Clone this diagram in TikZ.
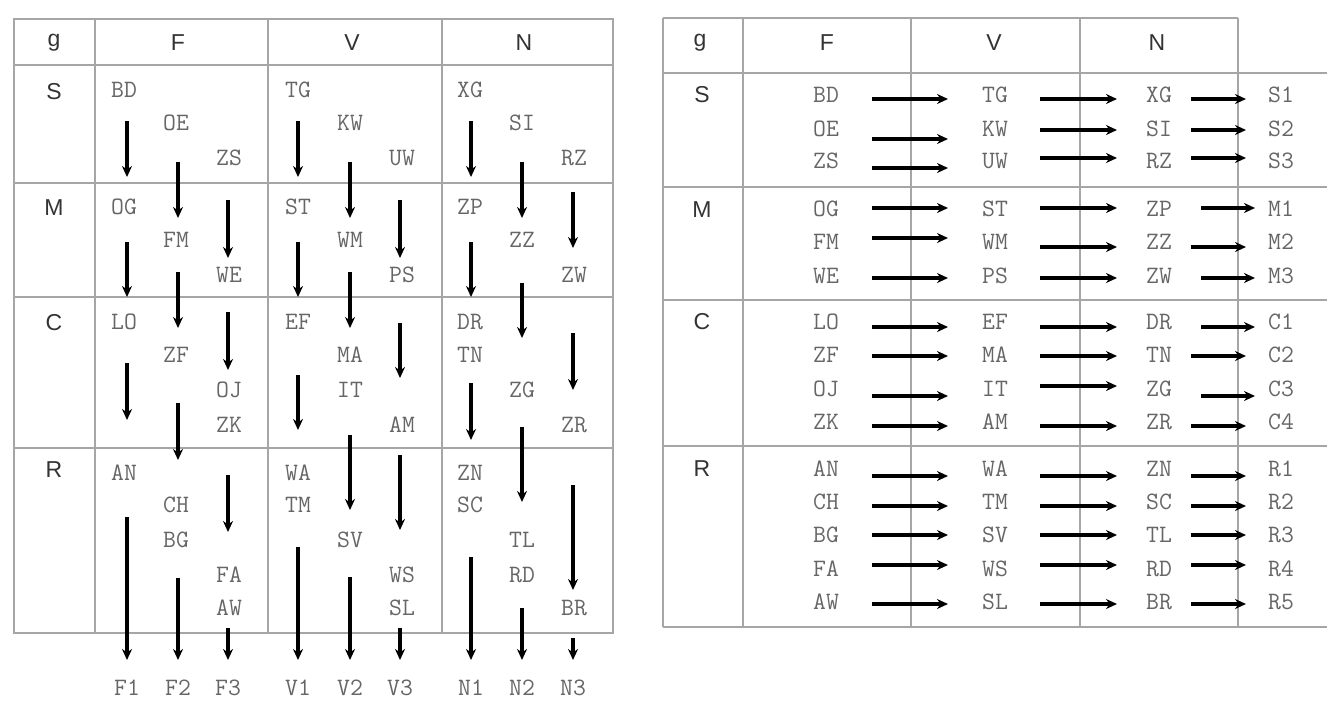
\documentclass[tikz,border=0pt]{standalone}
\usepackage{fontspec}
\setmainfont{Liberation Sans}
\usetikzlibrary{arrows.meta}

\begin{document}
\begin{tikzpicture}[x=1pt, y=-1pt,
    grid/.style={draw=gray!70, line width=2.2pt},
    head/.style={font=\fontsize{23}{24}\selectfont, text=black!80},
    code/.style={font=\ttfamily\fontsize{25}{26}\selectfont, text=black!60},
    arr/.style={-{Stealth[length=11pt,width=10pt]}, line width=3.4pt}
]
\useasboundingbox (0,0) rectangle (1336,704);

% left table
\draw[grid] (14,19) rectangle (613,633);
\foreach \x in {95,268,442} \draw[grid] (\x,19) -- (\x,633);
\foreach \y in {65,183,297,448} \draw[grid] (14,\y) -- (613,\y);
\foreach \t/\x/\y in {g/54/43, F/178/43, V/352/43, N/524/43,
    S/54/92, M/54/208, C/54/323, R/54/470}
  \node[head] (lh\t) at (\x,\y) {\t};

\foreach \t/\x/\y in {BD/124/90, OE/176/123, ZS/229/158,
    TG/298/90, KW/350/123, UW/402/158,
    XG/470/90, SI/522/123, RZ/574/158,
    OG/124/207, FM/176/240, WE/229/275,
    ST/298/207, WM/350/240, PS/402/275,
    ZP/470/207, ZZ/522/240, ZW/574/275,
    LO/124/322, ZF/176/355, OJ/229/390, ZK/229/425,
    EF/298/322, MA/350/355, IT/350/390, AM/402/425,
    DR/470/322, TN/470/355, ZG/522/390, ZR/574/425,
    AN/124/473, CH/176/505, BG/176/540, FA/229/575, AW/229/608,
    WA/298/473, TM/298/505, SV/350/540, WS/402/575, SL/402/608,
    ZN/470/473, SC/470/505, TL/522/540, RD/522/575, BR/574/608,
    F1/127/688, F2/178/688, F3/228/688,
    V1/298/688, V2/350/688, V3/400/688,
    N1/471/688, N2/522/688, N3/573/688}
  \node[code] (l\t) at (\x,\y) {\t};

\foreach \x/\a/\b in {127/121/177, 178/162/218, 228/200/258, 127/242/297,
    178/272/328, 228/312/370, 127/363/420, 178/403/460, 228/475/532,
    127/517/660, 178/578/660, 228/628/660,
    298/121/177, 350/162/218, 400/200/258, 298/242/297, 350/272/328,
    400/323/378, 298/375/430, 350/435/510, 400/455/530, 298/547/660,
    350/577/660, 400/628/660,
    471/121/177, 522/162/218, 573/192/248, 471/242/297, 522/283/338,
    573/333/390, 471/383/440, 522/427/502, 573/485/590, 471/557/660,
    522/608/660, 573/638/660}
  \draw[arr] (\x,\a) -- (\x,\b);

% right table
\draw[grid] (663,18) -- (1238,18);
\foreach \x in {663,743,911,1080,1238} \draw[grid] (\x,18) -- (\x,627);
\foreach \y in {73,187,300,446,627} \draw[grid] (663,\y) -- (1327,\y);
\foreach \t/\x/\y in {g/700/43, F/827/43, V/994/43, N/1157/43,
    S/702/95, M/702/210, C/702/322, R/702/469}
  \node[head] (rh\t) at (\x,\y) {\t};

\foreach \a/\b/\c/\d/\y in {BD/TG/XG/S1/95, OE/KW/SI/S2/129, ZS/UW/RZ/S3/161,
    OG/ST/ZP/M1/209, FM/WM/ZZ/M2/242, WE/PS/ZW/M3/276,
    LO/EF/DR/C1/322, ZF/MA/TN/C2/355, OJ/IT/ZG/C3/389, ZK/AM/ZR/C4/422,
    AN/WA/ZN/R1/469, CH/TM/SC/R2/502, BG/SV/TL/R3/535, FA/WS/RD/R4/569,
    AW/SL/BR/R5/602}{
  \node[code] (r\a) at (826,\y) {\a};
  \node[code] (r\b) at (995,\y) {\b};
  \node[code] (r\c) at (1159,\y) {\c};
  \node[code] (r\d) at (1281,\y) {\d};
}

\foreach \y in {99,139,168,208,238,278,327,356,396,426,476,506,535,565,604}
  \draw[arr] (872,\y) -- (948,\y);
\foreach \y in {99,130,158,208,247,278,327,356,386,426,476,506,535,565,604}
  \draw[arr] (1040,\y) -- (1117,\y);
\foreach \y in {99,130,158,247,356,426,476,506,535,565,604}
  \draw[arr] (1191,\y) -- (1246,\y);
\foreach \y in {208,278,327,396}
  \draw[arr] (1201,\y) -- (1255,\y);
\end{tikzpicture}
\end{document}
